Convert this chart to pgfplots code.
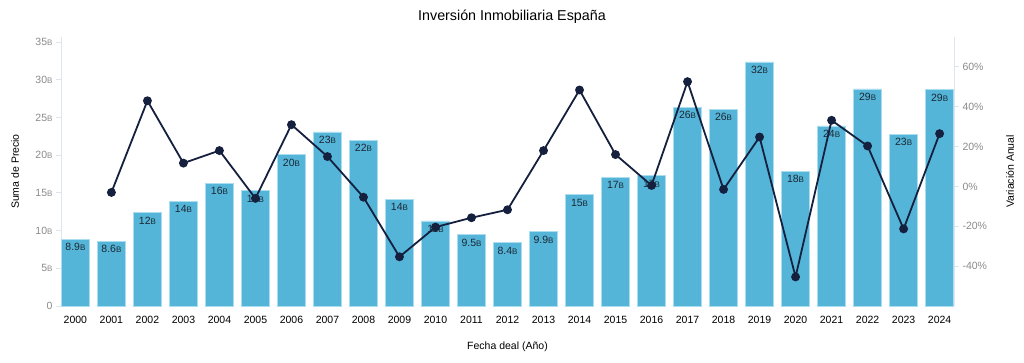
\documentclass[border=0pt]{standalone}
\usepackage{fontspec}
\setmainfont{Liberation Sans}
\usepackage{pgfplots}
\pgfplotsset{compat=1.18}
\usepackage{pgfplotstable}

\definecolor{barc}{HTML}{54B5D8}
\definecolor{barb}{HTML}{A9DDEF}
\definecolor{linec}{HTML}{15203F}
\definecolor{axc}{HTML}{DDE6EF}
\definecolor{tickc}{HTML}{8A8A8A}
\definecolor{labc}{HTML}{1C2733}

\newcommand{\Bs}{{\fontsize{8}{8}\selectfont B}}

\pgfplotstableread{
x val lab
0 8.85 8.9
1 8.6 8.6
2 12.4 12
3 13.9 14
4 16.3 16
5 15.3 15
6 20.1 20
7 23.1 23
8 22.0 22
9 14.2 14
10 11.3 11
11 9.5 9.5
12 8.4 8.4
13 9.9 9.9
14 14.8 15
15 17.1 17
16 17.3 17
17 26.4 26
18 26.1 26
19 32.4 32
20 17.9 18
21 23.9 24
22 28.8 29
23 22.8 23
24 28.7 29
}\bars

\pgfplotstableread{
x pct
1 -3
2 43
3 11.7
4 18
5 -6
6 31
7 15
8 -5.4
9 -35.3
10 -20.4
11 -15.7
12 -11.7
13 18
14 48.4
15 16
16 0.5
17 52.6
18 -1.5
19 24.8
20 -45.4
21 33.2
22 20.3
23 -21.3
24 26.5
}\linetab

\begin{document}
\begin{tikzpicture}
\begin{axis}[
  name=main,
  scale only axis, width=893pt, height=269pt,
  xmin=-0.4, xmax=24.4, ymin=0, ymax=35.7,
  axis y line*=left, axis x line*=bottom,
  x axis line style={draw=none},
  y axis line style={draw=axc, line width=1pt},
  xtick={0,...,24},
  xticklabels={2000,2001,2002,2003,2004,2005,2006,2007,2008,2009,2010,2011,2012,2013,2014,2015,2016,2017,2018,2019,2020,2021,2022,2023,2024},
  x tick style={draw=none},
  ytick={0,5,...,35},
  yticklabels={0,5\Bs,10\Bs,15\Bs,20\Bs,25\Bs,30\Bs,35\Bs},
  y tick style={draw=axc, line width=1pt},
  tick align=outside, major tick length=5pt,
  y tick label style={text=tickc, font=\fontsize{10.5}{10.5}\selectfont},
  x tick label style={text=black, font=\fontsize{10.5}{10.5}\selectfont, yshift=-2pt},
  ylabel={Suma de Precio},
  ylabel style={font=\fontsize{10.5}{10.5}\selectfont, at={(axis description cs:-0.0515,0.5)}, anchor=center},
  xlabel={Fecha deal (Año)},
  xlabel style={font=\fontsize{10.5}{10.5}\selectfont, at={(axis description cs:0.5,0)}, yshift=-41pt, anchor=center},
  title={Inversión Inmobiliaria España},
  title style={font=\fontsize{14.3}{14.3}\selectfont, at={(axis description cs:0.505,1)}, yshift=14pt, anchor=center},
]
\addplot[ybar, bar width=0.78, fill=barc, draw=barb, line width=0.6pt,
  point meta=explicit symbolic,
  nodes near coords={\pgfplotspointmeta\Bs},
  every node near coord/.append style={anchor=north, yshift=-3pt, inner sep=1pt, text=labc, font=\fontsize{10.5}{10.5}\selectfont}
] table[x=x, y=val, meta=lab] {\bars};
\end{axis}
\begin{axis}[
  scale only axis, width=893pt, height=269pt,
  xmin=-0.4, xmax=24.4, ymin=-60, ymax=75,
  axis y line*=right, axis x line=none,
  y axis line style={draw=axc, line width=1pt},
  ytick={-40,-20,0,20,40,60},
  yticklabels={-40\%,-20\%,0\%,20\%,40\%,60\%},
  y tick style={draw=axc, line width=1pt},
  tick align=outside, major tick length=5pt,
  y tick label style={text=tickc, font=\fontsize{10.5}{10.5}\selectfont},
  ylabel={Variación Anual},
  ylabel style={font=\fontsize{10.5}{10.5}\selectfont, at={(axis description cs:1.0627,0.5)}, anchor=center},
]
\addplot[linec, line width=1.8pt, mark=*, mark size=3.5pt, mark options={fill=linec, draw=linec}] table[x=x, y=pct] {\linetab};
\end{axis}
\pgfresetboundingbox
\path[use as bounding box] (main.south west) ++(-61pt,-56pt) rectangle ++(1024pt,362pt);
\end{tikzpicture}
\end{document}
